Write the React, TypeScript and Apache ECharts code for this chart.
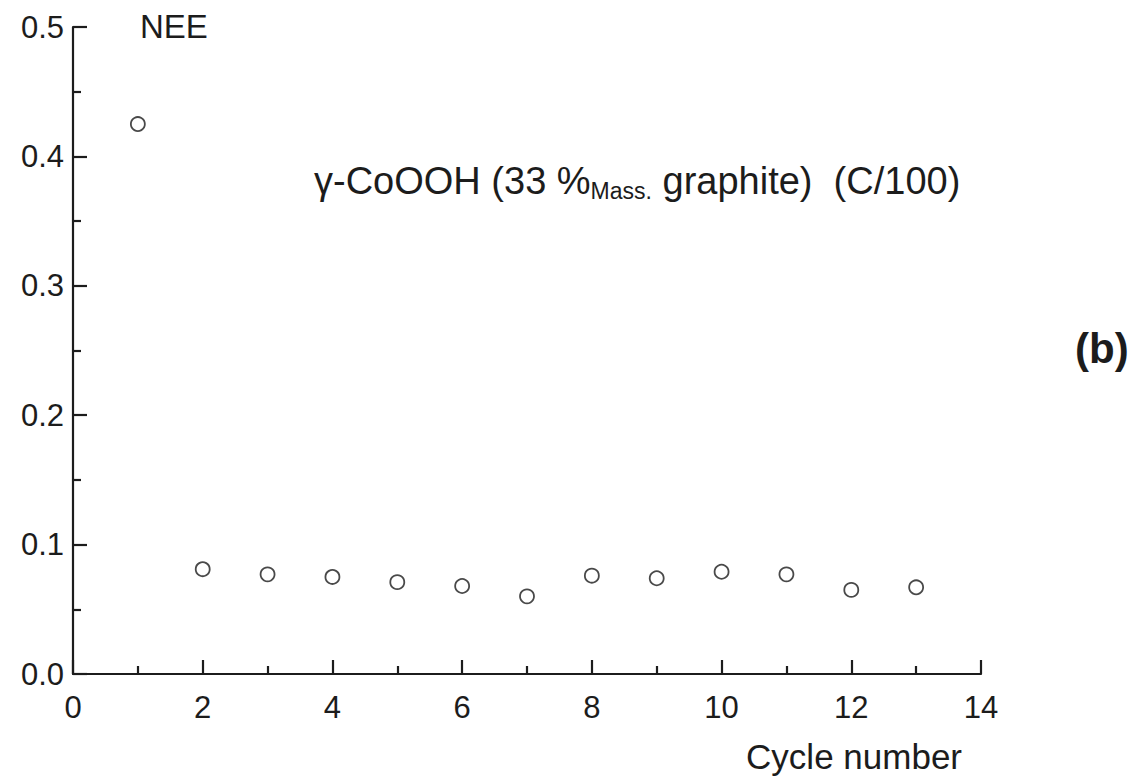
import React, { useEffect, useRef } from "react";
import * as echarts from "echarts";

// Data
const cycleNumbers: number[] = [1, 2, 3, 4, 5, 6, 7, 8, 9, 10, 11, 12, 13];
const neeValues: number[] = [0.425, 0.081, 0.077, 0.075, 0.071, 0.068, 0.060, 0.076, 0.074, 0.079, 0.077, 0.065, 0.067];

const xTickLabels: string[] = ["0", "2", "4", "6", "8", "10", "12", "14"];
const yTickLabels: string[] = ["0.0", "0.1", "0.2", "0.3", "0.4", "0.5"];

const FONT = "'Liberation Sans', Arial, Helvetica, sans-serif";
const INK = "#1c1c1c";

export default function App() {
  const ref = useRef<HTMLDivElement | null>(null);

  useEffect(() => {
    if (!ref.current) return;
    const chart = echarts.init(ref.current, undefined, { renderer: "svg" });

    const points = cycleNumbers.map((c, i) => [c, neeValues[i]]);

    chart.setOption({
      animation: false,
      backgroundColor: "#ffffff",
      grid: { left: 73, right: 161, top: 27, bottom: 104, containLabel: false },
      xAxis: {
        type: "value",
        min: 0,
        max: 14,
        interval: 2,
        axisLine: { show: true, lineStyle: { color: INK, width: 2.2 } },
        axisTick: { show: true, inside: true, length: 14, lineStyle: { color: INK, width: 2.2 } },
        minorTick: { show: true, splitNumber: 2, length: 8, lineStyle: { color: INK, width: 2.2 } },
        splitLine: { show: false },
        minorSplitLine: { show: false },
        axisLabel: {
          margin: 18,
          fontSize: 31,
          fontFamily: FONT,
          color: INK,
          formatter: (v: number) => xTickLabels[Math.round(v / 2)] ?? String(v),
        },
      },
      yAxis: {
        type: "value",
        min: 0,
        max: 0.5,
        interval: 0.1,
        axisLine: { show: true, lineStyle: { color: INK, width: 2.2 } },
        axisTick: { show: true, inside: true, length: 14, lineStyle: { color: INK, width: 2.2 } },
        minorTick: { show: true, splitNumber: 2, length: 8, lineStyle: { color: INK, width: 2.2 } },
        splitLine: { show: false },
        minorSplitLine: { show: false },
        axisLabel: {
          margin: 9,
          fontSize: 31,
          fontFamily: FONT,
          color: INK,
          formatter: (v: number) => yTickLabels[Math.round(v * 10)] ?? v.toFixed(1),
        },
      },
      series: [
        {
          type: "scatter",
          data: points,
          symbol: "circle",
          symbolSize: 14,
          itemStyle: { color: "#ffffff", borderColor: INK, borderWidth: 1.8 },
        },
      ],
      graphic: [
        {
          type: "text",
          left: 140,
          top: 10,
          style: { text: "NEE", fontSize: 33, fontFamily: FONT, fill: INK },
        },
        {
          type: "text",
          left: 314,
          top: 162,
          style: {
            text: "{m|γ-CoOOH (33 %}{s|Mass.}{m| graphite)  (C/100)}",
            fontFamily: FONT,
            fill: INK,
            rich: {
              m: { fontSize: 38, fontFamily: FONT, fill: INK, lineHeight: 43 },
              s: { fontSize: 23, fontFamily: FONT, fill: INK, lineHeight: 30, verticalAlign: "bottom" },
            },
          },
        },
        {
          type: "text",
          right: 180,
          top: 739,
          style: { text: "Cycle number", fontSize: 35, fontFamily: FONT, fill: INK },
        },
        {
          type: "text",
          left: 1075,
          top: 327,
          style: { text: "(b)", fontSize: 42, fontWeight: "bold", fontFamily: FONT, fill: INK },
        },
      ],
    });

    return () => chart.dispose();
  }, []);

  return (
    <div
      ref={ref}
      style={{ position: "absolute", left: 0, top: 0, width: 1142, height: 778, background: "#fff" }}
    />
  );
}
